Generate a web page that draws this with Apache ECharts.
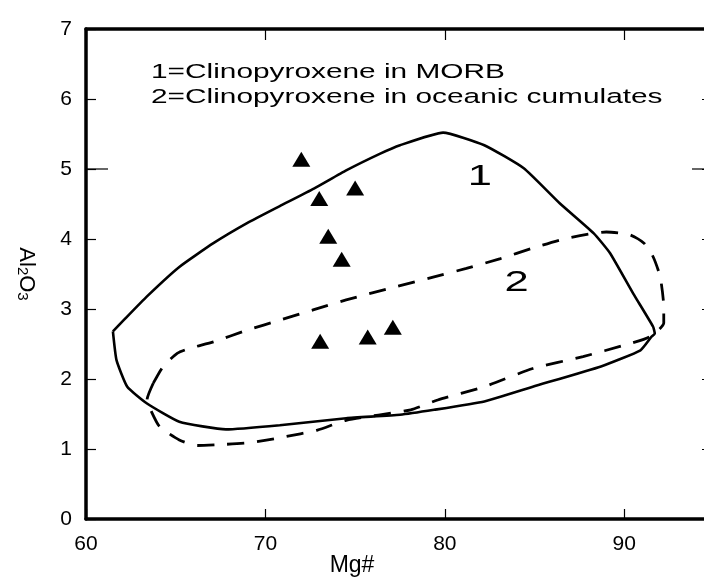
<!DOCTYPE html>
<html>
<head>
<meta charset="utf-8">
<script src="https://cdn.jsdelivr.net/npm/echarts@6/dist/echarts.min.js"></script>
<style>
  html, body { margin: 0; padding: 0; background: #fff; }
  #chart { width: 704px; height: 579px; }
</style>
</head>
<body>
<div id="chart"></div>
<script>
// Field 1: clinopyroxene in MORB (closed outline, Mg# vs Al2O3)
const morbMg = [61.5, 62.1, 63.4, 65.2, 67.1, 69.0, 70.8, 72.7, 74.5, 76.4, 77.5, 79.9, 82.2, 84.4, 86.4, 88.3, 89.2, 90.5, 91.6, 91.7, 91.5, 90.9, 88.7, 84.9, 82.2, 79.4, 77.5, 74.5, 70.8, 67.8, 65.2, 63.4, 62.3, 61.7, 61.5];
const morbAl = [2.68, 2.84, 3.18, 3.60, 3.94, 4.23, 4.47, 4.72, 4.98, 5.22, 5.34, 5.52, 5.34, 5.01, 4.51, 4.08, 3.80, 3.22, 2.75, 2.65, 2.60, 2.41, 2.18, 1.89, 1.68, 1.56, 1.49, 1.44, 1.34, 1.28, 1.39, 1.65, 1.89, 2.27, 2.68];

// Field 2: clinopyroxene in oceanic cumulates (closed outline)
const cumMg = [63.75, 64.3, 65.1, 65.8, 67.1, 69.0, 70.8, 72.7, 74.5, 77.3, 79.4, 81.2, 83.1, 84.9, 86.8, 89.0, 90.3, 91.1, 91.6, 92.0, 92.2, 92.2, 91.4, 90.1, 87.7, 84.9, 82.2, 79.6, 78.1, 74.5, 72.9, 71.0, 69.1, 67.3, 66.2, 65.2, 64.1, 63.6, 63.4, 63.75];
const cumAl = [1.94, 2.18, 2.37, 2.44, 2.53, 2.70, 2.84, 2.99, 3.13, 3.32, 3.46, 3.58, 3.72, 3.87, 4.01, 4.10, 4.06, 3.94, 3.75, 3.46, 3.03, 2.80, 2.60, 2.49, 2.32, 2.15, 1.89, 1.70, 1.56, 1.41, 1.27, 1.17, 1.09, 1.06, 1.05, 1.13, 1.32, 1.56, 1.70, 1.94];

// Analysed clinopyroxene samples
const sampleMg = [72.0, 73.0, 75.0, 73.5, 74.25, 73.05, 75.7, 77.1];
const sampleAl = [5.14, 4.58, 4.73, 4.04, 3.71, 2.54, 2.60, 2.74];

// Field labels and where they sit
const fieldNames = ['1', '2'];
const fieldLabelMg = [81.95, 84.0];
const fieldLabelAl = [4.89, 3.37];

// Key text
const keyLines = ['1=Clinopyroxene in MORB', '2=Clinopyroxene in oceanic cumulates'];

// Al2O3 level whose frame ticks are drawn long
const longTickAl = 5;

const FONT = '"Liberation Sans", Arial, Helvetica, sans-serif';
const INK = '#000';

const pairs = (xs, ys) => xs.map((x, i) => [x, ys[i]]);

const chart = echarts.init(document.getElementById('chart'), null, { renderer: 'canvas' });

const frameLine = { show: true, onZero: false, lineStyle: { color: INK, width: 3.5 } };
const innerTick = (len) => ({ show: true, inside: true, length: len, lineStyle: { color: INK, width: 1.2 } });

const X_MIN = 60, X_MAX = 95;

chart.setOption({
  backgroundColor: '#fff',
  animation: false,
  // the frame runs on past the right edge of the page
  grid: { left: 86, top: 29, width: 628, height: 490, outerBoundsMode: 'none', containLabel: false },
  xAxis: [
    {
      type: 'value', position: 'bottom', min: X_MIN, max: X_MAX, interval: 10,
      axisLine: frameLine, axisTick: innerTick(10), splitLine: { show: false },
      axisLabel: { color: INK, fontSize: 21, fontFamily: FONT, margin: 15, showMaxLabel: false }
    },
    {
      type: 'value', position: 'top', min: X_MIN, max: X_MAX, interval: 10,
      axisLine: frameLine, axisTick: innerTick(11), splitLine: { show: false },
      axisLabel: { show: false }
    }
  ],
  yAxis: [
    {
      type: 'value', position: 'left', min: 0, max: 7, interval: 1,
      axisLine: frameLine, axisTick: innerTick(10), splitLine: { show: false },
      axisLabel: { color: INK, fontSize: 21, fontFamily: FONT, margin: 14 },
      name: '{b|Al}{s|2}{b|O}{s|3}',
      nameLocation: 'middle', nameRotate: -90, nameGap: 48,
      nameTextStyle: {
        rich: {
          b: { fontSize: 22, fontFamily: FONT, color: INK },
          s: { fontSize: 15, fontFamily: FONT, color: INK, verticalAlign: 'bottom', padding: [8, 0, 0, 0] }
        }
      }
    },
    {
      type: 'value', position: 'right', min: 0, max: 7, interval: 1,
      axisLine: frameLine, axisTick: innerTick(12), splitLine: { show: false },
      axisLabel: { show: false }
    }
  ],
  series: [
    {
      name: 'MORB', type: 'line', data: pairs(morbMg, morbAl),
      showSymbol: false, smooth: 0.15, silent: true, z: 2,
      lineStyle: { color: INK, width: 2.6, type: 'solid' }
    },
    {
      name: 'Oceanic cumulates', type: 'line', data: pairs(cumMg, cumAl),
      showSymbol: false, smooth: 0.2, silent: true, z: 2,
      lineStyle: { color: INK, width: 2.8, type: [17, 13] }
    },
    {
      name: 'Samples', type: 'scatter', data: pairs(sampleMg, sampleAl),
      symbol: 'triangle', symbolSize: [18, 15], z: 3,
      itemStyle: { color: INK, opacity: 1 }
    }
  ]
});

// Text overlays: the key, the x-axis title and the stretched field numbers
const graphics = [];
keyLines.forEach((t, i) => {
  graphics.push({
    type: 'text', x: 151, y: 72 + i * 25, scaleX: 1.455, silent: true,
    style: { text: t, font: '20.5px ' + FONT, fill: INK, align: 'left', verticalAlign: 'middle' }
  });
});
graphics.push({
  type: 'text', x: 352, y: 566, silent: true,
  style: { text: 'Mg#', font: '23px ' + FONT, fill: INK, align: 'center', verticalAlign: 'middle' }
});
fieldNames.forEach((t, i) => {
  const p = chart.convertToPixel({ xAxisIndex: 0, yAxisIndex: 0 }, [fieldLabelMg[i], fieldLabelAl[i]]);
  graphics.push({
    type: 'text', x: p[0], y: p[1], scaleX: 1.45, silent: true,
    style: { text: t, font: '30px ' + FONT, fill: INK, align: 'center', verticalAlign: 'middle' }
  });
});

// long inner ticks on both side frames at the chosen Al2O3 level
const leftEnd = chart.convertToPixel({ xAxisIndex: 0, yAxisIndex: 0 }, [X_MIN, longTickAl]);
const rightEnd = chart.convertToPixel({ xAxisIndex: 0, yAxisIndex: 0 }, [X_MAX, longTickAl]);
const LONG_TICK = 22;
graphics.push({
  type: 'line', silent: true,
  shape: { x1: leftEnd[0], y1: leftEnd[1], x2: leftEnd[0] + LONG_TICK, y2: leftEnd[1] },
  style: { stroke: INK, lineWidth: 1.2 }
});
graphics.push({
  type: 'line', silent: true,
  shape: { x1: rightEnd[0], y1: rightEnd[1], x2: rightEnd[0] - LONG_TICK, y2: rightEnd[1] },
  style: { stroke: INK, lineWidth: 1.2 }
});

chart.setOption({ graphic: graphics });
</script>
</body>
</html>
